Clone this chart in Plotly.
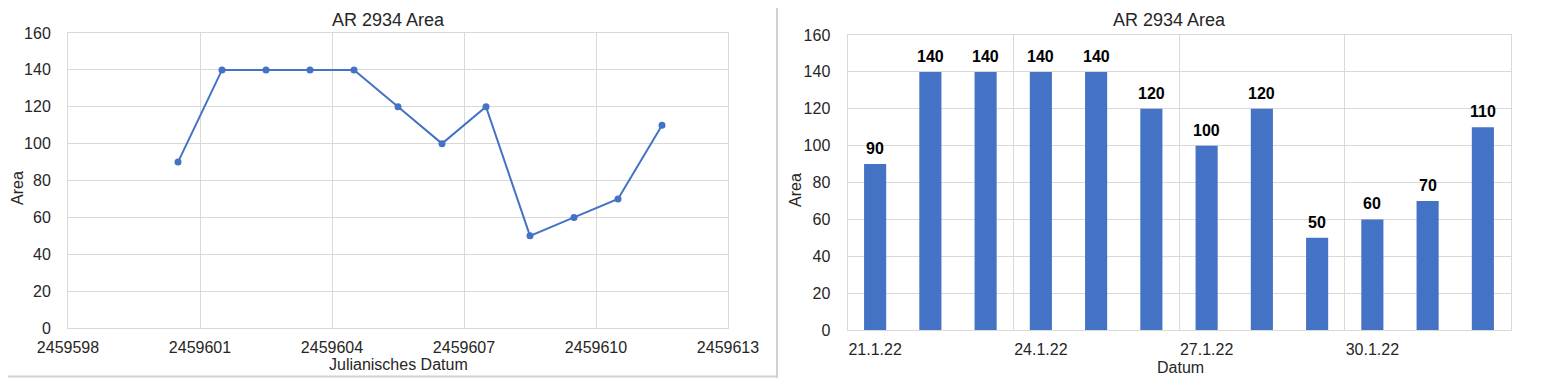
import plotly.graph_objects as go

# ---- data ----
title_text = "AR 2934 Area"
julian_dates = [2459600.5, 2459601.5, 2459602.5, 2459603.5, 2459604.5, 2459605.5,
                2459606.5, 2459607.5, 2459608.5, 2459609.5, 2459610.5, 2459611.5]
dates = ["21.1.22", "22.1.22", "23.1.22", "24.1.22", "25.1.22", "26.1.22",
         "27.1.22", "28.1.22", "29.1.22", "30.1.22", "31.1.22", "1.2.22"]
area = [90, 140, 140, 140, 140, 120, 100, 120, 50, 60, 70, 110]
x_ticks_left = [2459598, 2459601, 2459604, 2459607, 2459610, 2459613]
y_ticks = [0, 20, 40, 60, 80, 100, 120, 140, 160]
date_label_every = 3

# page body has an 8px margin; lay out in screen pixels and convert
OFF = 8
W, H = 1562 - OFF, 378 - OFF
FONT = "Liberation Sans, Arial, sans-serif"
BLUE = "#4472C4"
GRID = "#d9d9d9"
TXT = "#262626"

def px(x):
    return (x - OFF) / W

def py(y):
    return 1 - (y - OFF) / H

fig = go.Figure()

# left: line chart
fig.add_trace(go.Scatter(
    x=julian_dates, y=area, mode="lines+markers",
    line=dict(color=BLUE, width=2), marker=dict(color=BLUE, size=7),
    xaxis="x", yaxis="y", showlegend=False))

# right: bar chart
idx = list(range(len(dates)))
fig.add_trace(go.Bar(
    x=idx, y=area, marker=dict(color=BLUE, line=dict(width=0)), width=0.4,
    xaxis="x2", yaxis="y2", showlegend=False))

for i, v in zip(idx, area):
    fig.add_annotation(x=i, y=v, xref="x2", yref="y2", text=f"<b>{v}</b>",
                       showarrow=False, yanchor="bottom", yshift=5,
                       font=dict(family=FONT, size=16, color="#000000"))

label_idx = idx[::date_label_every]
grid_idx = [i - 0.5 for i in idx[::date_label_every]] + [idx[-1] + 0.5]

axis_font = dict(family=FONT, size=16, color=TXT)

fig.update_layout(
    width=W, height=H,
    margin=dict(l=0, r=0, t=0, b=0, autoexpand=False),
    paper_bgcolor="white", plot_bgcolor="white",
    bargap=0.6,
    xaxis=dict(domain=[px(68), px(728)], range=[x_ticks_left[0], x_ticks_left[-1]],
               tickmode="array", tickvals=x_ticks_left,
               ticktext=[str(t) for t in x_ticks_left],
               showgrid=True, gridcolor=GRID, gridwidth=1,
               showline=True, linecolor=GRID, linewidth=1, mirror=True,
               zeroline=False, ticks="", tickfont=axis_font, ticklabelstandoff=5,
               automargin=False, anchor="y"),
    yaxis=dict(domain=[py(328), py(33)], range=[0, 160], tickmode="array",
               tickvals=y_ticks, showgrid=True, gridcolor=GRID, gridwidth=1,
               showline=True, linecolor=GRID, linewidth=1, mirror=True,
               zeroline=False, ticks="", tickfont=axis_font, ticklabelstandoff=13,
               automargin=False, anchor="x"),
    xaxis2=dict(domain=[px(847.5), px(1510.5)], range=[-0.5, len(dates) - 0.5],
                tickmode="array", tickvals=label_idx,
                ticktext=[dates[i] for i in label_idx],
                showgrid=False, zeroline=False,
                showline=True, linecolor=GRID, linewidth=1, mirror=True,
                ticks="", tickfont=axis_font, ticklabelstandoff=5,
                minor=dict(tickmode="array", tickvals=grid_idx, showgrid=True,
                           gridcolor=GRID, gridwidth=1, ticks=""),
                automargin=False, anchor="y2"),
    yaxis2=dict(domain=[py(330), py(35)], range=[0, 160], tickmode="array",
                tickvals=y_ticks, showgrid=True, gridcolor=GRID, gridwidth=1,
                showline=True, linecolor=GRID, linewidth=1, mirror=True,
                zeroline=False, ticks="", tickfont=axis_font, ticklabelstandoff=13,
                automargin=False, anchor="x2"),
)

title_font = dict(family=FONT, size=18, color=TXT)
fig.add_annotation(x=px(388), y=py(20), xref="paper", yref="paper", text=title_text,
                   showarrow=False, xanchor="center", yanchor="middle", font=title_font)
fig.add_annotation(x=px(1169), y=py(20), xref="paper", yref="paper", text=title_text,
                   showarrow=False, xanchor="center", yanchor="middle", font=title_font)
fig.add_annotation(x=px(398), y=py(364), xref="paper", yref="paper",
                   text="Julianisches Datum", showarrow=False, xanchor="center",
                   yanchor="middle", font=axis_font)
fig.add_annotation(x=px(1180), y=py(367), xref="paper", yref="paper",
                   text="Datum", showarrow=False, xanchor="center",
                   yanchor="middle", font=axis_font)
fig.add_annotation(x=px(17), y=py(188), xref="paper", yref="paper", text="Area",
                   showarrow=False, textangle=-90, xanchor="center", yanchor="middle",
                   font=axis_font)
fig.add_annotation(x=px(795), y=py(190), xref="paper", yref="paper", text="Area",
                   showarrow=False, textangle=-90, xanchor="center", yanchor="middle",
                   font=axis_font)

# chart frame separators
fig.add_shape(type="line", xref="paper", yref="paper", x0=px(777), x1=px(777),
              y0=0, y1=1, line=dict(color="#d0d0d0", width=2))
fig.add_shape(type="line", xref="paper", yref="paper", x0=0, x1=px(777),
              y0=py(376.5), y1=py(376.5), line=dict(color="#d0d0d0", width=2))
fig.add_shape(type="line", xref="paper", yref="paper", x0=px(1560.5), x1=px(1560.5),
              y0=0, y1=1, line=dict(color="#d0d0d0", width=1))

fig.write_html("out.html")
